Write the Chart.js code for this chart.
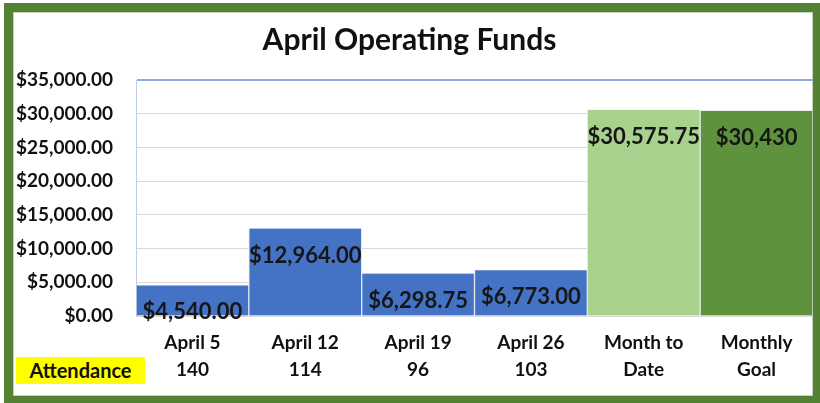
<!DOCTYPE html>
<html>
<head>
<meta charset="utf-8">
<script src="https://cdn.jsdelivr.net/npm/chart.js@4"></script>
<style>
  html, body { margin: 0; padding: 0; background: #fff; }
  #wrap { position: relative; width: 820px; height: 403px; overflow: hidden; }
  #frame {
    position: absolute; left: 4px; top: 3px; width: 818px; height: 402px;
    box-sizing: border-box; border: 9px solid #548235;
    box-shadow: inset 0 0 0 1px #c5d3bb;
  }
  #attendance {
    position: absolute; left: 16px; top: 357px; width: 129px; height: 27px;
    background: #ffff00; font: bold 20px Lato, sans-serif; color: #111;
    text-align: center; line-height: 27px;
  }
  canvas { position: absolute; left: 0; top: 0; }
</style>
</head>
<body>
<div id="wrap">
  <div id="frame"></div>
  <div id="attendance">Attendance</div>
  <canvas id="chart" width="820" height="403"></canvas>
</div>
<script>
// chart data
const categories = [
  ["April 5", "140"],
  ["April 12", "114"],
  ["April 19", "96"],
  ["April 26", "103"],
  ["Month to", "Date"],
  ["Monthly", "Goal"]
];
const funds = [4540, 12964, 6298.75, 6773, 30575.75, 30430];
const fund_labels = ["$4,540.00", "$12,964.00", "$6,298.75", "$6,773.00", "$30,575.75", "$30,430"];
const bar_colours = ["#4472c4", "#4472c4", "#4472c4", "#4472c4", "#a9d18e", "#5e923d"];

const font_family = "Lato, 'Open Sans', sans-serif";

// Draws the value labels near the top inside each bar
const barLabels = {
  id: "barLabels",
  afterDatasetsDraw(chart) {
    const ctx = chart.ctx;
    const meta = chart.getDatasetMeta(0);
    ctx.save();
    ctx.font = "bold 22px " + font_family;
    ctx.fillStyle = "#161616";
    ctx.textAlign = "center";
    ctx.textBaseline = "middle";
    meta.data.forEach((bar, i) => {
      ctx.fillText(fund_labels[i], bar.x, bar.y + 27);
    });
    ctx.restore();
  }
};

new Chart(document.getElementById("chart"), {
  type: "bar",
  data: {
    labels: categories,
    datasets: [{
      data: funds,
      backgroundColor: bar_colours,
      borderColor: "#e3e8ef",
      borderWidth: { left: 1, right: 1, top: 0, bottom: 0 },
      borderSkipped: false,
      barPercentage: 1,
      categoryPercentage: 1
    }]
  },
  options: {
    responsive: false,
    animation: false,
    layout: { padding: { left: 6, right: 7, top: 12, bottom: 8 } },
    plugins: {
      legend: { display: false },
      tooltip: { enabled: false },
      title: {
        display: true,
        text: "April Operating Funds",
        color: "#111",
        font: { family: font_family, size: 30, weight: "bold", lineHeight: 1.2 },
        padding: { top: 10, bottom: 22 }
      }
    },
    scales: {
      x: {
        grid: { display: false, drawTicks: false },
        border: { display: false },
        ticks: {
          color: "#111",
          padding: 13,
          maxRotation: 0,
          autoSkip: false,
          font: { family: font_family, size: 19, weight: "bold", lineHeight: 1.42 }
        },
        afterFit: scale => { scale.height = 79; }
      },
      y: {
        min: 0,
        max: 35000,
        grid: {
          drawTicks: false,
          color: c => c.tick && c.tick.value === 35000 ? "#8faadc" : "#d9d9d9",
          lineWidth: c => c.tick && c.tick.value === 35000 ? 2 : 1
        },
        border: { display: true, color: "#c0cfe8", width: 1 },
        ticks: {
          stepSize: 5000,
          color: "#111",
          padding: 23,
          font: { family: font_family, size: 19, weight: "bold" },
          callback: v => "$" + v.toLocaleString("en-US", { minimumFractionDigits: 2, maximumFractionDigits: 2 })
        },
        afterFit: scale => { scale.width = 130; }
      }
    }
  },
  plugins: [barLabels]
});
</script>
</body>
</html>
